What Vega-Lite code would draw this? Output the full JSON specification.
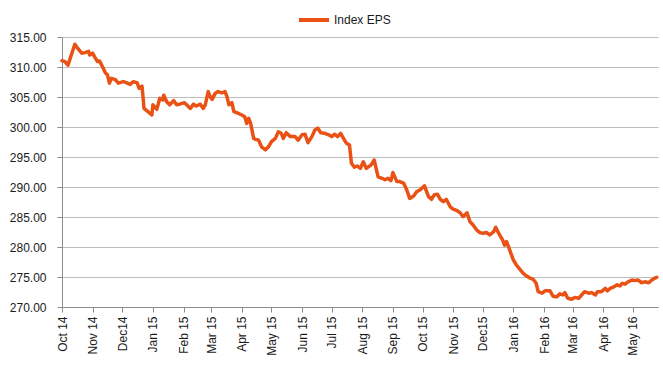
{
  "$schema": "https://vega.github.io/schema/vega-lite/v6.json",
  "width": 596,
  "height": 270,
  "autosize": {"type": "none"},
  "padding": {"left": 62, "top": 37, "right": 5, "bottom": 58},
  "background": "white",
  "config": {
    "view": {"stroke": null},
    "font": "Liberation Sans"
  },
  "data": {
    "values": [
      {"d":"2014-10-01","v":311.05},{"d":"2014-10-04","v":310.9},{"d":"2014-10-07","v":310.3},{"d":"2014-10-11","v":312.3},
      {"d":"2014-10-14","v":313.8},{"d":"2014-10-17","v":313.1},{"d":"2014-10-21","v":312.3},{"d":"2014-10-24","v":312.4},
      {"d":"2014-10-28","v":312.6},{"d":"2014-10-29","v":312.0},{"d":"2014-11-01","v":312.3},{"d":"2014-11-03","v":311.7},
      {"d":"2014-11-06","v":310.9},{"d":"2014-11-08","v":311.0},{"d":"2014-11-11","v":310.05},{"d":"2014-11-14","v":309.0},
      {"d":"2014-11-16","v":308.7},{"d":"2014-11-18","v":307.3},{"d":"2014-11-20","v":308.1},{"d":"2014-11-24","v":307.9},
      {"d":"2014-11-27","v":307.3},{"d":"2014-12-02","v":307.55},{"d":"2014-12-05","v":307.4},{"d":"2014-12-09","v":307.1},
      {"d":"2014-12-12","v":307.55},{"d":"2014-12-16","v":307.4},{"d":"2014-12-18","v":306.45},{"d":"2014-12-21","v":306.8},
      {"d":"2014-12-22","v":305.05},{"d":"2014-12-23","v":303.1},{"d":"2014-12-27","v":302.55},{"d":"2014-12-31","v":302.0},
      {"d":"2015-01-01","v":303.7},{"d":"2015-01-05","v":302.95},{"d":"2015-01-08","v":304.8},{"d":"2015-01-11","v":304.5},
      {"d":"2015-01-12","v":305.3},{"d":"2015-01-15","v":304.2},{"d":"2015-01-18","v":303.7},{"d":"2015-01-22","v":304.4},
      {"d":"2015-01-25","v":303.7},{"d":"2015-01-28","v":303.8},{"d":"2015-02-02","v":304.05},{"d":"2015-02-08","v":303.1},
      {"d":"2015-02-11","v":303.8},{"d":"2015-02-14","v":303.5},{"d":"2015-02-18","v":303.8},{"d":"2015-02-21","v":303.1},
      {"d":"2015-02-23","v":303.7},{"d":"2015-02-26","v":305.9},{"d":"2015-02-28","v":305.05},{"d":"2015-03-02","v":304.6},
      {"d":"2015-03-05","v":305.6},{"d":"2015-03-08","v":305.9},{"d":"2015-03-12","v":305.7},{"d":"2015-03-15","v":305.9},
      {"d":"2015-03-17","v":305.05},{"d":"2015-03-19","v":303.7},{"d":"2015-03-22","v":304.05},{"d":"2015-03-24","v":302.55},
      {"d":"2015-03-28","v":302.3},{"d":"2015-04-01","v":302.0},{"d":"2015-04-04","v":301.7},{"d":"2015-04-06","v":300.6},
      {"d":"2015-04-08","v":301.45},{"d":"2015-04-10","v":300.6},{"d":"2015-04-13","v":298.1},{"d":"2015-04-15","v":297.95},
      {"d":"2015-04-18","v":297.8},{"d":"2015-04-21","v":296.7},{"d":"2015-04-25","v":296.2},{"d":"2015-04-28","v":296.7},
      {"d":"2015-05-01","v":297.55},{"d":"2015-05-05","v":298.1},{"d":"2015-05-08","v":299.2},{"d":"2015-05-11","v":298.95},
      {"d":"2015-05-13","v":298.1},{"d":"2015-05-16","v":299.05},{"d":"2015-05-20","v":298.4},{"d":"2015-05-25","v":298.4},
      {"d":"2015-05-28","v":297.8},{"d":"2015-06-01","v":298.7},{"d":"2015-06-04","v":298.8},{"d":"2015-06-07","v":297.4},
      {"d":"2015-06-11","v":298.4},{"d":"2015-06-14","v":299.5},{"d":"2015-06-17","v":299.8},{"d":"2015-06-20","v":299.05},
      {"d":"2015-06-24","v":298.95},{"d":"2015-06-28","v":298.7},{"d":"2015-07-01","v":298.4},{"d":"2015-07-04","v":298.8},
      {"d":"2015-07-07","v":298.4},{"d":"2015-07-10","v":298.95},{"d":"2015-07-14","v":297.8},{"d":"2015-07-16","v":297.3},
      {"d":"2015-07-19","v":297.0},{"d":"2015-07-21","v":293.95},{"d":"2015-07-24","v":293.3},{"d":"2015-07-27","v":293.5},
      {"d":"2015-07-30","v":293.1},{"d":"2015-08-02","v":294.2},{"d":"2015-08-05","v":293.1},{"d":"2015-08-10","v":293.7},
      {"d":"2015-08-13","v":294.5},{"d":"2015-08-17","v":291.7},{"d":"2015-08-21","v":291.45},{"d":"2015-08-24","v":291.2},
      {"d":"2015-08-27","v":291.45},{"d":"2015-08-30","v":291.05},{"d":"2015-09-01","v":292.4},{"d":"2015-09-05","v":290.9},
      {"d":"2015-09-08","v":290.9},{"d":"2015-09-12","v":290.6},{"d":"2015-09-15","v":289.5},{"d":"2015-09-18","v":288.1},
      {"d":"2015-09-22","v":288.5},{"d":"2015-09-25","v":289.2},{"d":"2015-09-29","v":289.6},{"d":"2015-10-03","v":290.2},
      {"d":"2015-10-07","v":288.4},{"d":"2015-10-10","v":287.95},{"d":"2015-10-13","v":288.7},{"d":"2015-10-16","v":288.8},
      {"d":"2015-10-19","v":287.95},{"d":"2015-10-22","v":287.55},{"d":"2015-10-25","v":287.95},{"d":"2015-10-29","v":286.7},
      {"d":"2015-11-01","v":286.3},{"d":"2015-11-05","v":286.05},{"d":"2015-11-08","v":285.7},{"d":"2015-11-11","v":285.05},
      {"d":"2015-11-15","v":285.7},{"d":"2015-11-18","v":284.2},{"d":"2015-11-21","v":283.7},{"d":"2015-11-25","v":282.8},
      {"d":"2015-11-28","v":282.4},{"d":"2015-12-01","v":282.3},{"d":"2015-12-05","v":282.4},{"d":"2015-12-08","v":282.0},
      {"d":"2015-12-12","v":282.55},{"d":"2015-12-14","v":283.3},{"d":"2015-12-17","v":282.3},{"d":"2015-12-21","v":281.2},
      {"d":"2015-12-23","v":280.3},{"d":"2015-12-25","v":280.9},{"d":"2015-12-27","v":280.05},{"d":"2015-12-30","v":278.7},
      {"d":"2016-01-01","v":277.8},{"d":"2016-01-04","v":277.0},{"d":"2016-01-08","v":276.2},{"d":"2016-01-11","v":275.6},
      {"d":"2016-01-14","v":275.2},{"d":"2016-01-18","v":274.8},{"d":"2016-01-21","v":274.6},{"d":"2016-01-24","v":273.95},
      {"d":"2016-01-26","v":272.55},{"d":"2016-01-30","v":272.3},{"d":"2016-02-02","v":272.7},{"d":"2016-02-07","v":272.7},
      {"d":"2016-02-10","v":271.8},{"d":"2016-02-14","v":271.7},{"d":"2016-02-17","v":272.2},{"d":"2016-02-20","v":272.0},
      {"d":"2016-02-22","v":272.4},{"d":"2016-02-25","v":271.45},{"d":"2016-02-29","v":271.3},{"d":"2016-03-03","v":271.6},
      {"d":"2016-03-07","v":271.45},{"d":"2016-03-10","v":272.0},{"d":"2016-03-13","v":272.55},{"d":"2016-03-17","v":272.3},
      {"d":"2016-03-20","v":272.4},{"d":"2016-03-24","v":272.0},{"d":"2016-03-26","v":272.55},{"d":"2016-03-30","v":272.55},
      {"d":"2016-04-03","v":273.1},{"d":"2016-04-05","v":272.7},{"d":"2016-04-08","v":273.1},{"d":"2016-04-11","v":273.3},
      {"d":"2016-04-15","v":273.7},{"d":"2016-04-18","v":273.5},{"d":"2016-04-20","v":273.95},{"d":"2016-04-23","v":273.8},
      {"d":"2016-04-26","v":274.2},{"d":"2016-04-30","v":274.5},{"d":"2016-05-03","v":274.4},{"d":"2016-05-06","v":274.5},
      {"d":"2016-05-10","v":274.05},{"d":"2016-05-13","v":274.2},{"d":"2016-05-17","v":274.05},{"d":"2016-05-20","v":274.5},
      {"d":"2016-05-23","v":274.8},{"d":"2016-05-25","v":274.95}
    ]
  },
  "mark": {"type": "line", "strokeWidth": 3.5, "strokeJoin": "round", "strokeCap": "round"},
  "encoding": {
    "x": {
      "field": "d",
      "type": "temporal",
      "scale": {
        "type": "utc",
        "domain": [
          {"year": 2014, "month": 10, "date": 1, "utc": true},
          {"year": 2016, "month": 5, "date": 26, "hours": 8, "utc": true}
        ]
      },
      "axis": {
        "title": null,
        "values": [
          {"year": 2014, "month": 10, "date": 1, "utc": true},
          {"year": 2014, "month": 11, "date": 1, "utc": true},
          {"year": 2014, "month": 12, "date": 1, "utc": true},
          {"year": 2015, "month": 1, "date": 1, "utc": true},
          {"year": 2015, "month": 2, "date": 1, "utc": true},
          {"year": 2015, "month": 3, "date": 1, "utc": true},
          {"year": 2015, "month": 4, "date": 1, "utc": true},
          {"year": 2015, "month": 5, "date": 1, "utc": true},
          {"year": 2015, "month": 6, "date": 1, "utc": true},
          {"year": 2015, "month": 7, "date": 1, "utc": true},
          {"year": 2015, "month": 8, "date": 1, "utc": true},
          {"year": 2015, "month": 9, "date": 1, "utc": true},
          {"year": 2015, "month": 10, "date": 1, "utc": true},
          {"year": 2015, "month": 11, "date": 1, "utc": true},
          {"year": 2015, "month": 12, "date": 1, "utc": true},
          {"year": 2016, "month": 1, "date": 1, "utc": true},
          {"year": 2016, "month": 2, "date": 1, "utc": true},
          {"year": 2016, "month": 3, "date": 1, "utc": true},
          {"year": 2016, "month": 4, "date": 1, "utc": true},
          {"year": 2016, "month": 5, "date": 1, "utc": true}
        ],
        "labelExpr": "replace(utcFormat(datum.value, '%b %y'), 'Dec ', 'Dec')",
        "labelAngle": -90,
        "labelFontSize": 12,
        "labelColor": "#1a1a1a",
        "labelPadding": 4,
        "labelOverlap": false,
        "labelFlush": false,
        "grid": false,
        "domainColor": "#8c8c8c",
        "tickColor": "#8c8c8c",
        "tickSize": 5
      }
    },
    "y": {
      "field": "v",
      "type": "quantitative",
      "scale": {"domain": [270, 315], "nice": false, "zero": false},
      "axis": {
        "title": null,
        "values": [270, 275, 280, 285, 290, 295, 300, 305, 310, 315],
        "format": ".2f",
        "labelFontSize": 12,
        "labelColor": "#1a1a1a",
        "labelPadding": 11,
        "grid": true,
        "gridColor": "#bdbdbd",
        "gridWidth": 1,
        "domainColor": "#8c8c8c",
        "tickColor": "#8c8c8c",
        "tickSize": 5
      }
    },
    "color": {
      "datum": "Index EPS",
      "scale": {"range": ["#ea5115"]},
      "legend": {
        "title": null,
        "orient": "none",
        "legendX": 235,
        "legendY": -34,
        "symbolType": "stroke",
        "symbolSize": 900,
        "symbolStrokeWidth": 4,
        "labelFontSize": 12,
        "labelColor": "#1a1a1a",
        "labelOffset": 3
      }
    }
  }
}
